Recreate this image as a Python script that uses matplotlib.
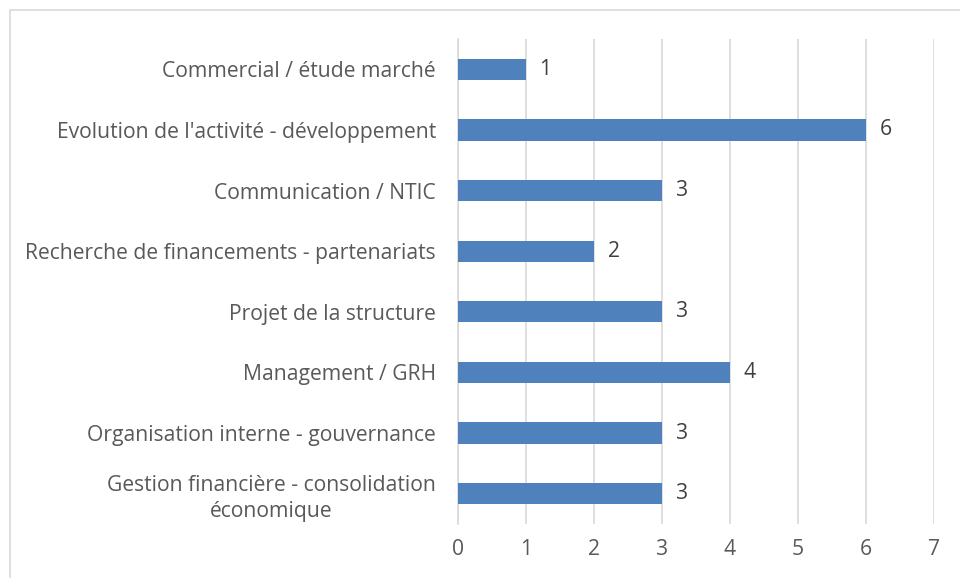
import matplotlib
matplotlib.use("Agg")
import matplotlib.pyplot as plt
from matplotlib.patches import Rectangle

plt.rcParams["font.family"] = ["Open Sans", "DejaVu Sans"]

categories = [
    "Commercial / étude marché",
    "Evolution de l'activité - développement",
    "Communication / NTIC",
    "Recherche de financements - partenariats",
    "Projet de la structure",
    "Management / GRH",
    "Organisation interne - gouvernance",
    "Gestion financière - consolidation\néconomique",
]
values = [1, 6, 3, 2, 3, 4, 3, 3]
x_ticks = [0, 1, 2, 3, 4, 5, 6, 7]

bar_color = "#4f81bd"
text_color = "#595959"
fs = 15.2

fig = plt.figure(figsize=(9.6, 5.78), dpi=100)
fig.patches.append(Rectangle((10 / 960, -0.1), 1.1, 1.1 - 10 / 578,
                             transform=fig.transFigure, fill=False,
                             edgecolor="#d9d9d9", linewidth=1.2))
ax = fig.add_axes([458 / 960, 1 - 524 / 578, 476 / 960, 485 / 578])

ypos = list(range(len(categories)))[::-1]
ax.barh(ypos, values, height=0.35, color=bar_color, zorder=3)
for y, v in zip(ypos, values):
    ax.text(v + 0.2, y, str(v), va="center", ha="left", fontsize=fs, color="#404040")

ax.set_xlim(0, 7)
ax.set_ylim(-0.5, len(categories) - 0.5)
ax.set_xticks(x_ticks)
ax.set_yticks(ypos)
ax.set_yticklabels(categories, ha="right", multialignment="center", linespacing=1.3)
ax.tick_params(axis="y", length=0, pad=16, labelsize=fs, labelcolor=text_color)
ax.tick_params(axis="x", length=0, pad=11, labelsize=fs, labelcolor=text_color)
ax.xaxis.grid(True, color="#d9d9d9", linewidth=1.2, zorder=0)
for s in ["top", "right", "bottom"]:
    ax.spines[s].set_visible(False)
ax.spines["left"].set_color("#d9d9d9")
ax.spines["left"].set_linewidth(1.2)

fig.savefig("out.png", dpi=100)
